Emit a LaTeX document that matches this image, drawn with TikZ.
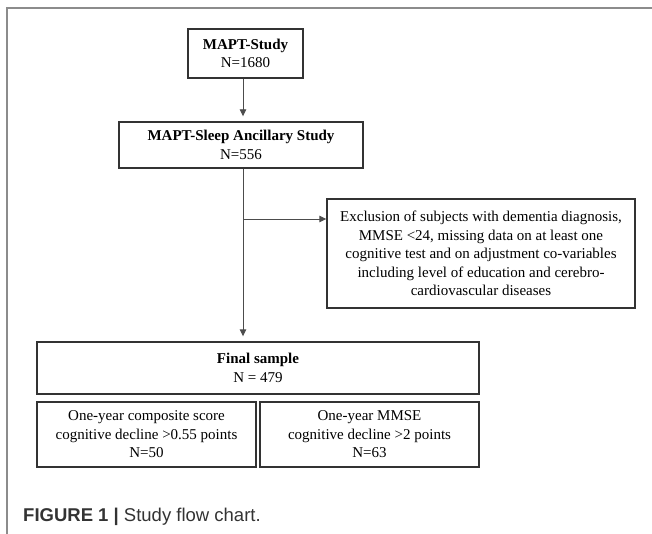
\documentclass[tikz,border=0pt]{standalone}
\usepackage{fontspec}
\setmainfont{Liberation Serif}
\newfontfamily\capfont{Liberation Sans}
\usetikzlibrary{arrows.meta}
\begin{document}
\begin{tikzpicture}[x=1pt, y=-1pt,
    box/.style={draw=black!80, line width=1.4pt, align=center, inner sep=0pt,
        font=\fontsize{15}{18.5}\selectfont},
    flow/.style={draw=black!70, line width=0.9pt, -{Triangle[width=6.5pt,length=7pt]}}
]
\useasboundingbox (0,0) rectangle (652,534);
\draw[black!45, line width=2pt] (7,534) -- (7,8) -- (652,8);
\node[box, minimum width=115pt, minimum height=49pt] (mapt) at (245.5,53.5) {\textbf{MAPT-Study}\\N=1680};
\node[box, minimum width=244pt, minimum height=46pt] (sleep) at (241,145) {\textbf{MAPT-Sleep Ancillary Study}\\N=556};
\node[box, minimum width=308pt, minimum height=109pt] (excl) at (481,253.5) {Exclusion of subjects with dementia diagnosis,\\
    MMSE <24, missing data on at least one\\
    cognitive test and on adjustment co-variables\\
    including level of education and cerebro-\\
    cardiovascular diseases};
\node[box, minimum width=442pt, minimum height=52pt] (final) at (258,368) {\textbf{Final sample}\\N = 479};
\node[box, minimum width=219pt, minimum height=65pt] (composite) at (146.5,434.5) {One-year composite score\\cognitive decline >0.55 points\\N=50};
\node[box, minimum width=219pt, minimum height=65pt] (mmse) at (369.5,434.5) {One-year MMSE\\cognitive decline >2 points\\N=63};
\coordinate (spine) at (243,0);
\coordinate (branch) at (243,219);
\draw[flow, shorten >=5pt] (mapt.south -| spine) -- (sleep.north -| spine);
\draw[flow, shorten >=5pt] (sleep.south -| spine) -- (final.north -| spine);
\draw[flow] (branch) -- (branch -| excl.west);
\node[anchor=base west, inner sep=0pt, text=black!80, font=\capfont\fontsize{18.5}{20}\selectfont] (caption) at (23,521) {\textbf{FIGURE 1 |} Study flow chart.};
\end{tikzpicture}
\end{document}
